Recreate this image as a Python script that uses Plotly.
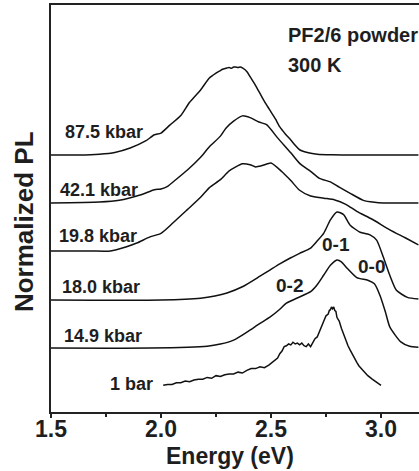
import plotly.graph_objects as go

# ---------------- data (normalized PL) ----------------
pressures = ["87.5 kbar", "42.1 kbar", "19.8 kbar", "18.0 kbar", "14.9 kbar", "1 bar"]
offsets = [2.920, 2.375, 1.830, 1.273, 0.727, 0.193]

e_875 = [1.50, 1.63, 1.72, 1.79, 1.86, 1.93, 1.97, 2.00, 2.04, 2.09, 2.13, 2.18, 2.22, 2.25, 2.27,
         2.28, 2.30, 2.31, 2.32, 2.33, 2.34, 2.35, 2.36, 2.37, 2.39, 2.405, 2.43, 2.45, 2.47, 2.495,
         2.52, 2.54, 2.565, 2.59, 2.61, 2.63, 2.67, 2.71, 2.78, 2.86, 3.17]
i_875 = [0.00, 0.00, 0.01, 0.03, 0.08, 0.16, 0.23, 0.25, 0.34, 0.45, 0.60, 0.74, 0.875, 0.93, 0.96,
         0.975, 0.99, 0.995, 0.985, 1.00, 1.00, 0.995, 1.00, 0.99, 0.95, 0.89, 0.79, 0.70, 0.61, 0.51,
         0.41, 0.32, 0.24, 0.17, 0.11, 0.06, 0.025, 0.01, 0.003, 0.0, 0.0]

e_421 = [1.50, 1.72, 1.81, 1.905, 1.97, 2.00, 2.03, 2.06, 2.12, 2.18, 2.22, 2.27, 2.295, 2.33, 2.37,
         2.405, 2.445, 2.48, 2.53, 2.59, 2.63, 2.68, 2.72, 2.77, 2.81, 2.86, 2.92, 2.97, 3.01, 3.17]
i_421 = [0.00, 0.01, 0.03, 0.09, 0.15, 0.16, 0.19, 0.25, 0.375, 0.52, 0.64, 0.76, 0.85, 0.93, 0.99,
         0.97, 0.92, 0.89, 0.74, 0.57, 0.45, 0.36, 0.28, 0.24, 0.18, 0.11, 0.03, 0.008, 0.0, 0.0]

e_198 = [1.50, 1.68, 1.77, 1.84, 1.89, 1.95, 2.00, 2.055, 2.12, 2.18, 2.22, 2.27, 2.31, 2.37, 2.405,
         2.43, 2.46, 2.50, 2.55, 2.59, 2.63, 2.68, 2.74, 2.79, 2.84, 2.89, 2.96, 3.04, 3.11, 3.17]
i_198 = [0.00, 0.00, 0.00, 0.045, 0.09, 0.16, 0.20, 0.32, 0.47, 0.61, 0.72, 0.81, 0.91, 0.99, 0.98,
         0.955, 0.97, 1.00, 0.90, 0.80, 0.69, 0.625, 0.60, 0.58, 0.53, 0.45, 0.36, 0.24, 0.15, 0.07]

e_180 = [1.50, 2.00, 2.18, 2.245, 2.30, 2.37, 2.45, 2.495, 2.54, 2.59, 2.63, 2.68, 2.71, 2.74, 2.77,
         2.80, 2.83, 2.86, 2.905, 2.95, 2.98, 3.01, 3.04, 3.07, 3.12, 3.17]
i_180 = [0.00, 0.00, 0.02, 0.045, 0.08, 0.15, 0.27, 0.34, 0.41, 0.48, 0.53, 0.59, 0.67, 0.76, 0.91,
         1.00, 0.97, 0.85, 0.77, 0.74, 0.68, 0.49, 0.28, 0.11, 0.03, 0.01]

e_149 = [1.50, 1.95, 2.21, 2.27, 2.33, 2.39, 2.45, 2.495, 2.54, 2.57, 2.63, 2.68, 2.71, 2.74, 2.77,
         2.80, 2.82, 2.845, 2.89, 2.94, 2.97, 2.995, 3.02, 3.04, 3.09, 3.13, 3.17]
i_149 = [0.00, 0.00, 0.02, 0.045, 0.09, 0.18, 0.28, 0.35, 0.44, 0.51, 0.58, 0.64, 0.72, 0.83, 0.94,
         1.00, 0.98, 0.91, 0.80, 0.77, 0.73, 0.60, 0.41, 0.24, 0.07, 0.02, 0.01]

e_1bar = [2.01, 2.03, 2.05, 2.07, 2.09, 2.11, 2.13, 2.15, 2.17, 2.19, 2.21, 2.23, 2.25, 2.27, 2.29,
          2.31, 2.33, 2.35, 2.37, 2.39, 2.41, 2.43, 2.45, 2.47, 2.49, 2.50, 2.51, 2.52, 2.53, 2.54,
          2.55, 2.56, 2.57, 2.58, 2.59, 2.60, 2.61, 2.62, 2.63, 2.64, 2.65, 2.66, 2.67, 2.68, 2.69,
          2.70, 2.71, 2.72, 2.73, 2.74, 2.75, 2.76, 2.765, 2.77, 2.775, 2.78, 2.785, 2.79, 2.795, 2.80,
          2.81, 2.82, 2.83, 2.84, 2.85, 2.86, 2.87, 2.88, 2.89, 2.90, 2.92, 2.94, 2.96, 2.98, 3.00]
i_1bar = [0.11, 0.12, 0.12, 0.14, 0.14, 0.16, 0.15, 0.17, 0.18, 0.18, 0.20, 0.19, 0.22, 0.21, 0.23,
          0.24, 0.24, 0.26, 0.25, 0.28, 0.30, 0.30, 0.32, 0.31, 0.34, 0.36, 0.37, 0.40, 0.42, 0.47,
          0.50, 0.55, 0.56, 0.58, 0.57, 0.60, 0.58, 0.59, 0.57, 0.59, 0.56, 0.55, 0.58, 0.55, 0.60,
          0.64, 0.66, 0.72, 0.78, 0.85, 0.90, 0.92, 0.96, 0.97, 1.00, 0.98, 1.00, 0.96, 0.95, 0.88,
          0.84, 0.76, 0.69, 0.62, 0.56, 0.51, 0.46, 0.41, 0.37, 0.33, 0.27, 0.22, 0.18, 0.14, 0.11]

energies = [e_875, e_421, e_198, e_180, e_149, e_1bar]
intensities = [i_875, i_421, i_198, i_180, i_149, i_1bar]

# label anchor positions (energy, offset-units)
label_x = [1.5545, 1.532, 1.527, 1.541, 1.55, 1.759]
label_y = [3.18, 2.523, 2.00, 1.42, 0.864, 0.318]

peak_names = ["0-1", "0-0", "0-2"]
peak_x = [2.795, 2.959, 2.582]
peak_y = [1.898, 1.648, 1.432]

x_ticks = [1.5, 2.0, 2.5, 3.0]
x_ticktext = ["1.5", "2.0", "2.5", "3.0"]

# ---------------- figure ----------------
FONT = "Liberation Sans, Arial, sans-serif"
TXT = "#1e1e1e"

fig = go.Figure()
for name, e, inten, off in zip(pressures, energies, intensities, offsets):
    fig.add_trace(go.Scatter(
        x=e, y=[v + off for v in inten], mode="lines", name=name,
        line=dict(color="#111111", width=1.5,
                  shape="linear" if name == "1 bar" else "spline", smoothing=0.6),
        showlegend=False, hoverinfo="skip"))

for name, lx, ly in zip(pressures, label_x, label_y):
    fig.add_annotation(x=lx, y=ly, text=name, showarrow=False, xanchor="left", yanchor="middle",
                       font=dict(family=FONT, size=18, color=TXT, weight="bold"))

for name, px, py in zip(peak_names, peak_x, peak_y):
    fig.add_annotation(x=px, y=py, text=name, showarrow=False, xanchor="center", yanchor="middle",
                       font=dict(family=FONT, size=19, color=TXT, weight="bold"))

fig.add_annotation(x=2.568, y=4.28, text="PF2/6 powder", showarrow=False, xanchor="left",
                   yanchor="middle", font=dict(family=FONT, size=20, color=TXT, weight="bold"))
fig.add_annotation(x=2.568, y=3.94, text="300 K", showarrow=False, xanchor="left",
                   yanchor="middle", font=dict(family=FONT, size=20, color=TXT, weight="bold"))

fig.add_annotation(xref="paper", yref="paper", x=0.486, y=-0.107, text="Energy (eV)",
                   showarrow=False, xanchor="center", yanchor="middle",
                   font=dict(family=FONT, size=23, color=TXT, weight="bold"))
fig.add_annotation(xref="paper", yref="paper", x=-0.073, y=0.467, text="Normalized PL",
                   textangle=-90, showarrow=False, xanchor="center", yanchor="middle",
                   font=dict(family=FONT, size=26, color=TXT, weight="bold"))

fig.update_layout(
    width=419, height=471,
    margin=dict(l=51, r=0, t=5, b=59),
    paper_bgcolor="white", plot_bgcolor="white",
    xaxis=dict(range=[1.5, 3.1727], tickvals=x_ticks, ticktext=x_ticktext,
               showline=True, linecolor="#222222", linewidth=2, mirror=True,
               ticks="outside", ticklen=4, tickwidth=1.5, tickcolor="#222222",
               minor=dict(dtick=0.25, tick0=1.5, ticks="outside", ticklen=3, tickcolor="#222222"),
               showgrid=False, zeroline=False, ticklabelstandoff=-9,
               tickfont=dict(family=FONT, size=23, color=TXT, weight="bold")),
    yaxis=dict(range=[0, 4.625], showline=True, linecolor="#222222", linewidth=2,
               showticklabels=False, ticks="", showgrid=False, zeroline=False),
)

fig.write_html("out.html", config={"displayModeBar": False},
               post_script="document.body.style.margin='0';document.body.style.overflow='hidden';")
